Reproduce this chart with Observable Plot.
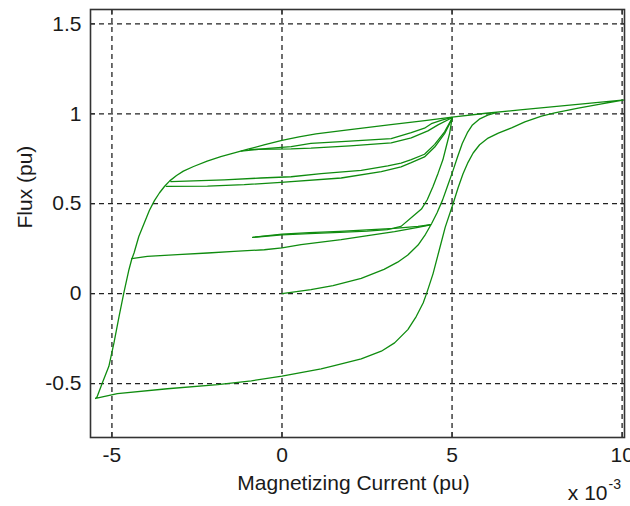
<!DOCTYPE html>
<html>
<head>
<meta charset="utf-8">
<script src="https://cdn.jsdelivr.net/npm/d3@7"></script>
<script src="https://cdn.jsdelivr.net/npm/@observablehq/plot@0.6"></script>
<style>
  html, body { margin: 0; padding: 0; background: #fff; }
  #chart { width: 630px; height: 506px; }
</style>
</head>
<body>
<div id="chart"></div>
<script>
// Values in units of 10^-3 pu (x) and pu (y)
const xTicks = [-5, 0, 5, 10];
const yTicks = [-0.5, 0, 0.5, 1, 1.5];

const majorLoop = [
  [10.07,1.077],[9.0,1.058],[8.0,1.040],[7.0,1.022],[6.0,1.003],[5.0,0.982],[4.2,0.962],[3.2,0.940],
  [2.0,0.912],[1.0,0.888],[0.5,0.872],[0,0.852],[-0.5,0.828],[-1.0,0.803],[-1.4,0.783],[-1.8,0.762],
  [-2.2,0.737],[-2.6,0.707],[-2.9,0.681],[-3.1,0.657],[-3.3,0.627],[-3.45,0.597],[-3.6,0.561],
  [-3.75,0.517],[-3.9,0.462],[-4.01,0.411],[-4.21,0.318],[-4.35,0.226],[-4.42,0.19],[-4.5,0.133],
  [-4.65,0.004],[-4.79,-0.126],[-4.94,-0.274],[-5.09,-0.404],[-5.28,-0.496],[-5.43,-0.571],[-5.48,-0.583],
  [-4.84,-0.556],[-3.37,-0.529],[-1.89,-0.506],[-0.9,-0.485],[0,-0.459],[1.15,-0.418],[1.54,-0.40],
  [2.33,-0.363],[2.92,-0.32],[3.31,-0.274],[3.70,-0.2],[3.95,-0.126],[4.15,-0.052],[4.25,0.0],
  [4.44,0.11],[4.62,0.24],[4.80,0.37],[5.03,0.50],[5.18,0.59],[5.32,0.665],[5.47,0.73],[5.62,0.782],
  [5.81,0.828],[6.06,0.865],[6.36,0.893],[6.75,0.922],[7.14,0.955],[7.63,0.987],[8.02,1.005],
  [8.42,1.02],[8.71,1.032],[9.4,1.055],[10.07,1.077]
];

const initialCurve = [
  [0,0],[0.85,0.022],[1.5,0.045],[2.33,0.085],[3.0,0.135],[3.4,0.175],[3.7,0.215],[4.0,0.27],
  [4.22,0.33],[4.4,0.39],[4.56,0.45],[4.72,0.52],[4.87,0.6],[5.02,0.68],[5.16,0.76],[5.3,0.835],
  [5.45,0.895],[5.6,0.938],[5.8,0.97],[6.05,0.993],[6.3,1.006]
];

const lowLoopRise = [
  [-4.42,0.195],[-3.96,0.207],[-3.07,0.217],[-2.19,0.226],[-1.41,0.235],[-0.52,0.244],[0,0.254],
  [0.56,0.272],[1.74,0.3],[2.62,0.325],[3.31,0.345],[4.0,0.368],[4.37,0.383]
];

const lowLoopReturn = [
  [4.37,0.383],[4.0,0.374],[3.3,0.363],[2.5,0.354],[1.7,0.346],[0.8,0.339],[0,0.331],[-0.86,0.313]
];

const lowLoopUp = [
  [-0.86,0.313],[0,0.327],[0.8,0.334],[1.7,0.341],[2.5,0.348],[3.1,0.356],[3.5,0.374],[3.85,0.43],
  [4.1,0.47],[4.27,0.522],[4.44,0.596],[4.59,0.67],[4.73,0.744],[4.83,0.818],[4.93,0.893],[5.0,0.975]
];

const midLoopUpper = [
  [-3.27,0.623],[-1.70,0.633],[-0.62,0.643],[0.27,0.650],[1.15,0.667],[2.33,0.685],[3.11,0.711],
  [3.50,0.726],[3.80,0.745],[4.19,0.775],[4.49,0.83],[4.78,0.90],[5.0,0.975]
];

const midLoopLower = [
  [-3.4,0.596],[-2.19,0.598],[-1.11,0.606],[-0.03,0.619],[1.74,0.643],[2.92,0.678],[3.50,0.705],
  [3.80,0.728],[4.19,0.76],[4.49,0.815],[4.78,0.89],[5.0,0.972]
];

const highLoopUpper = [
  [-1.2,0.793],[-0.4,0.808],[0.27,0.818],[0.85,0.835],[2.0,0.848],[3.21,0.862],[3.8,0.895],
  [4.19,0.92],[4.39,0.945],[4.7,0.965],[5.0,0.98]
];

const highLoopLower = [
  [-0.95,0.802],[0.27,0.805],[0.85,0.809],[2.0,0.822],[3.21,0.838],[3.8,0.866],[4.29,0.905],
  [4.6,0.94],[5.0,0.978]
];

const series = { majorLoop, initialCurve, lowLoopRise, lowLoopReturn, lowLoopUp,
                 midLoopUpper, midLoopLower, highLoopUpper, highLoopLower };
const rows = Object.entries(series).flatMap(([name, pts]) =>
  pts.map(([x, y], i) => ({name, i, x, y})));

const green = "#0f8c0f";
const gridColor = "#222";
const fmt = d => String(d);

const chart = Plot.plot({
  width: 630,
  height: 506,
  marginLeft: 90,
  marginRight: 6,
  marginTop: 9,
  marginBottom: 69,
  style: {fontSize: "21px", fontFamily: "'Liberation Sans', Arial, sans-serif", color: "#1a1a1a", background: "#fff"},
  x: {domain: [-5.63, 10.07]},
  y: {domain: [-0.8, 1.58]},
  marks: [
    Plot.gridX({ticks: xTicks, stroke: gridColor, strokeOpacity: 1, strokeWidth: 1.3, strokeDasharray: "5,4"}),
    Plot.gridY({ticks: yTicks, stroke: gridColor, strokeOpacity: 1, strokeWidth: 1.3, strokeDasharray: "5,4"}),
    Plot.line(rows, {x: "x", y: "y", z: "name", stroke: green, strokeWidth: 1.3, curve: "linear"}),
    Plot.axisX({ticks: xTicks, tickFormat: fmt, tickSize: 0, tickPadding: 10, label: null}),
    Plot.axisY({ticks: yTicks, tickFormat: fmt, tickSize: 0, tickPadding: 9, label: null}),
    Plot.axisX({anchor: "bottom", ticks: xTicks, tickSize: -5, tickFormat: () => "", label: null, stroke: "#222"}),
    Plot.axisX({anchor: "top", ticks: xTicks, tickSize: -5, tickFormat: () => "", label: null, stroke: "#222"}),
    Plot.axisY({anchor: "left", ticks: yTicks, tickSize: -5, tickFormat: () => "", label: null, stroke: "#222"}),
    Plot.axisY({anchor: "right", ticks: yTicks, tickSize: -5, tickFormat: () => "", label: null, stroke: "#222"}),
    Plot.frame({stroke: "#333", strokeWidth: 1.6}),
    Plot.text(["Magnetizing Current (pu)"], {frameAnchor: "bottom", text: d => d, dx: -4, dy: 52, fill: "#1a1a1a"}),
    Plot.text(["Flux (pu)"], {frameAnchor: "left", text: d => d, rotate: -90, dx: -65, dy: 5, fill: "#1a1a1a"}),
    Plot.text(["x 10"], {frameAnchor: "bottom-right", text: d => d, textAnchor: "end", dx: -17, dy: 62, fill: "#1a1a1a"}),
    Plot.text(["-3"], {frameAnchor: "bottom-right", text: d => d, textAnchor: "start", dx: -16, dy: 51, fontSize: 14, fill: "#1a1a1a"})
  ]
});
document.getElementById("chart").appendChild(chart);
</script>
</body>
</html>
